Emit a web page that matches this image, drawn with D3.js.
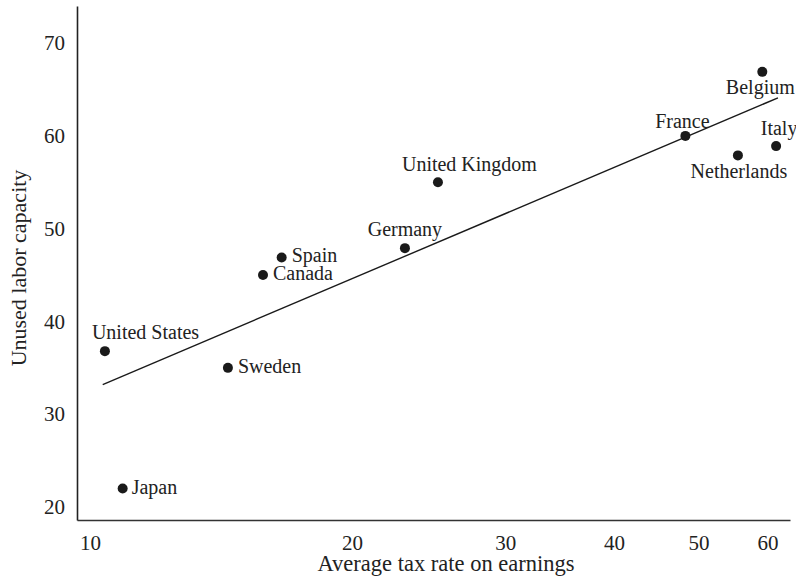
<!DOCTYPE html>
<html>
<head>
<meta charset="utf-8">
<script src="https://cdn.jsdelivr.net/npm/d3@7"></script>
<style>
  html, body { margin: 0; padding: 0; background: #fff; }
  svg { display: block; }
  text { font-family: "Liberation Serif", "Times New Roman", serif; fill: #222; }
</style>
</head>
<body>
<svg id="chart" width="796" height="582"></svg>
<script>
// Countries, average tax rate on earnings (%) and unused labor capacity
const countries = ["United States", "Japan", "Sweden", "Canada", "Spain", "Germany",
                   "United Kingdom", "France", "Netherlands", "Italy", "Belgium"];
const taxRate   = [10.4, 10.9, 14.4, 15.8, 16.6, 23.0, 25.1, 48.3, 55.5, 61.4, 59.2];
const unused    = [36.8, 22.0, 35.0, 45.0, 46.9, 47.9, 55.0, 60.0, 57.9, 58.9, 66.9];

// Fitted line endpoints (tax rate, unused capacity)
const fitX = [10.34, 61.7];
const fitY = [33.2, 64.1];

const xTicks = [10, 20, 30, 40, 50, 60];
const yTicks = [20, 30, 40, 50, 60, 70];

// Label placement for each country: [dx, dy, anchor]
const labelPlacement = [
  [-13, -12, "start"], [9, 6, "start"], [10, 5, "start"], [10, 5, "start"],
  [10, 5, "start"], [0, -12, "middle"], [-36, -11, "start"], [-3, -8, "middle"],
  [1, 23, "middle"], [3, -11, "middle"], [-2, 22, "middle"]
];

const svg = d3.select("#chart");
const plotLeft = 77, plotRight = 790, plotTop = 6, plotBottom = 520;

const x = d3.scaleLog().domain([9.66, 63.7]).range([plotLeft, plotRight]);
const y = d3.scaleLinear().domain([18.6, 74]).range([plotBottom, plotTop]);

// Axes
const xAxis = svg.append("g")
  .attr("transform", `translate(0,${plotBottom})`)
  .call(d3.axisBottom(x).tickValues(xTicks).tickFormat(d3.format("d"))
        .tickSizeInner(0).tickSizeOuter(0).tickPadding(15));
xAxis.select(".domain").attr("stroke", "#333").attr("stroke-width", 1.6);
xAxis.selectAll("text").attr("font-size", 21).attr("fill", "#222")
  .style("font-family", '"Liberation Serif", serif');

const yAxis = svg.append("g")
  .attr("transform", `translate(${plotLeft},0)`)
  .call(d3.axisLeft(y).tickValues(yTicks).tickFormat(d3.format("d"))
        .tickSizeInner(0).tickSizeOuter(0).tickPadding(12));
yAxis.select(".domain").attr("stroke", "#222").attr("stroke-width", 1.6);
yAxis.selectAll("text").attr("font-size", 21).attr("fill", "#222")
  .style("font-family", '"Liberation Serif", serif');

// Fitted line
svg.append("line")
  .attr("x1", x(fitX[0])).attr("y1", y(fitY[0]))
  .attr("x2", x(fitX[1])).attr("y2", y(fitY[1]))
  .attr("stroke", "#1a1a1a").attr("stroke-width", 1.4);

// Points
const data = countries.map((c, i) => ({ name: c, tax: taxRate[i], val: unused[i], place: labelPlacement[i] }));

svg.append("g").selectAll("circle").data(data).join("circle")
  .attr("cx", d => x(d.tax)).attr("cy", d => y(d.val))
  .attr("r", 5).attr("fill", "#1a1a1a");

svg.append("g").selectAll("text").data(data).join("text")
  .attr("x", d => x(d.tax) + d.place[0])
  .attr("y", d => y(d.val) + d.place[1])
  .attr("text-anchor", d => d.place[2])
  .attr("font-size", 20)
  .text(d => d.name);

// Axis titles
svg.append("text")
  .attr("x", 446).attr("y", 571)
  .attr("text-anchor", "middle").attr("font-size", 22.5)
  .text("Average tax rate on earnings");

svg.append("text")
  .attr("transform", "translate(26,268) rotate(-90)")
  .attr("text-anchor", "middle").attr("font-size", 22)
  .text("Unused labor capacity");
</script>
</body>
</html>
